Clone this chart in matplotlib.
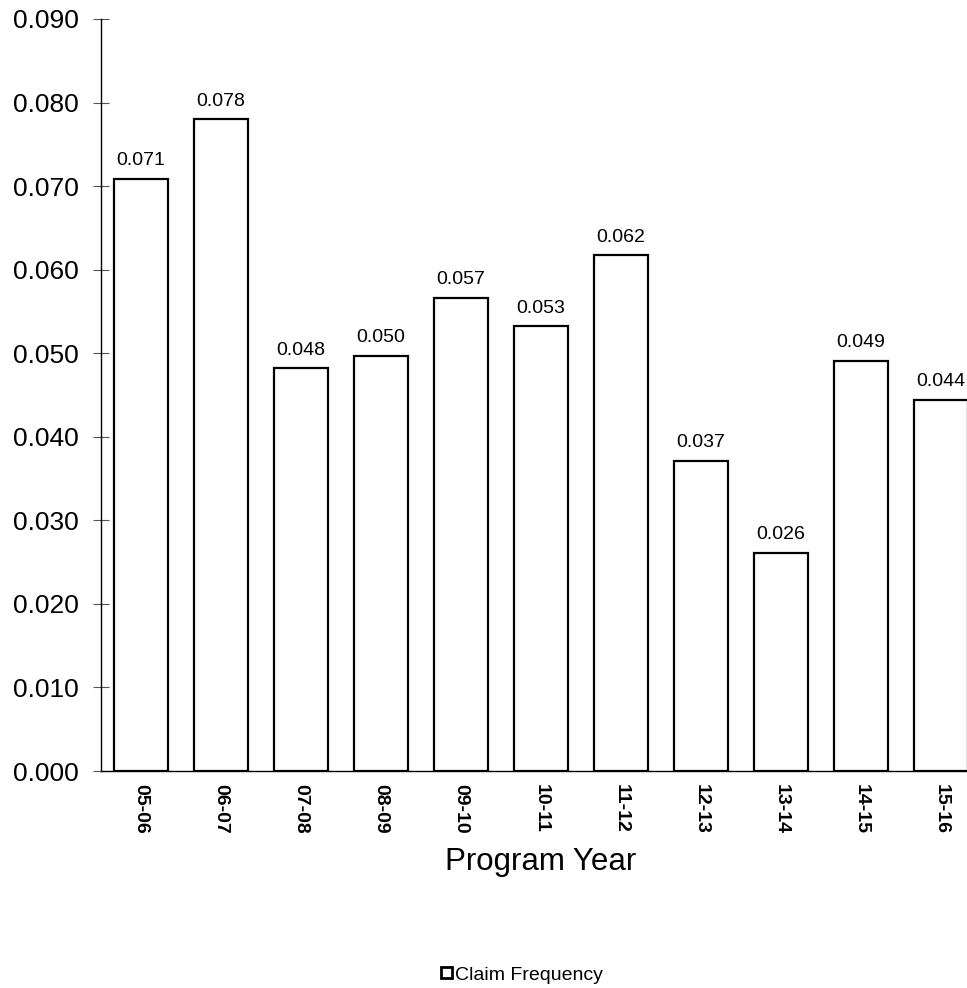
import matplotlib
matplotlib.use("Agg")
import matplotlib.pyplot as plt
from matplotlib.patches import Patch

years = ["05-06", "06-07", "07-08", "08-09", "09-10", "10-11", "11-12", "12-13", "13-14", "14-15", "15-16"]
claim_freq = [0.0709, 0.0780, 0.0482, 0.0497, 0.0566, 0.0532, 0.0617, 0.0371, 0.0261, 0.0491, 0.0444]
y_ticks = [0.0, 0.01, 0.02, 0.03, 0.04, 0.05, 0.06, 0.07, 0.08, 0.09]

plt.rcParams['font.family'] = ['Liberation Sans', 'DejaVu Sans']

W, H = 967, 988
fig = plt.figure(figsize=(W / 100, H / 100), dpi=100)
ax = fig.add_axes([101 / W, (H - 771) / H, 880 / W, 752 / H])

x = list(range(len(years)))
bars = ax.bar(x, claim_freq, width=0.675, color='white', edgecolor='black', linewidth=1.6)
ax.bar_label(bars, labels=[f"{v:.3f}" for v in claim_freq], padding=7, fontsize=14)

ax.set_xlim(-0.5, len(years) - 0.5)
ax.set_ylim(0, 0.09)
ax.set_yticks(y_ticks)
ax.set_yticklabels([f"{v:.3f}" for v in y_ticks], fontsize=19)
ax.set_xticks(x)
ax.set_xticklabels(years, rotation=270, fontsize=14, fontweight='bold')
ax.tick_params(axis='x', length=0, pad=9)
ax.tick_params(axis='y', direction='inout', length=11.5, width=0.8, pad=10, color='#555555')

for s in ['top', 'right']:
    ax.spines[s].set_visible(False)
ax.spines['left'].set_linewidth(1.0)
ax.spines['bottom'].set_linewidth(1.0)

ax.set_xlabel("Program Year", fontsize=22.5)
ax.xaxis.set_label_coords(0.5, -0.121)
ax.xaxis.label.set_va('center')

handle = Patch(facecolor='white', edgecolor='black', linewidth=2)
fig.legend([handle], ["Claim Frequency"], loc='center', bbox_to_anchor=(522 / W, 1 - 975 / H),
           frameon=False, fontsize=14, handlelength=0.55, handleheight=0.55, handletextpad=0.15)

fig.savefig("out.png", dpi=100)
